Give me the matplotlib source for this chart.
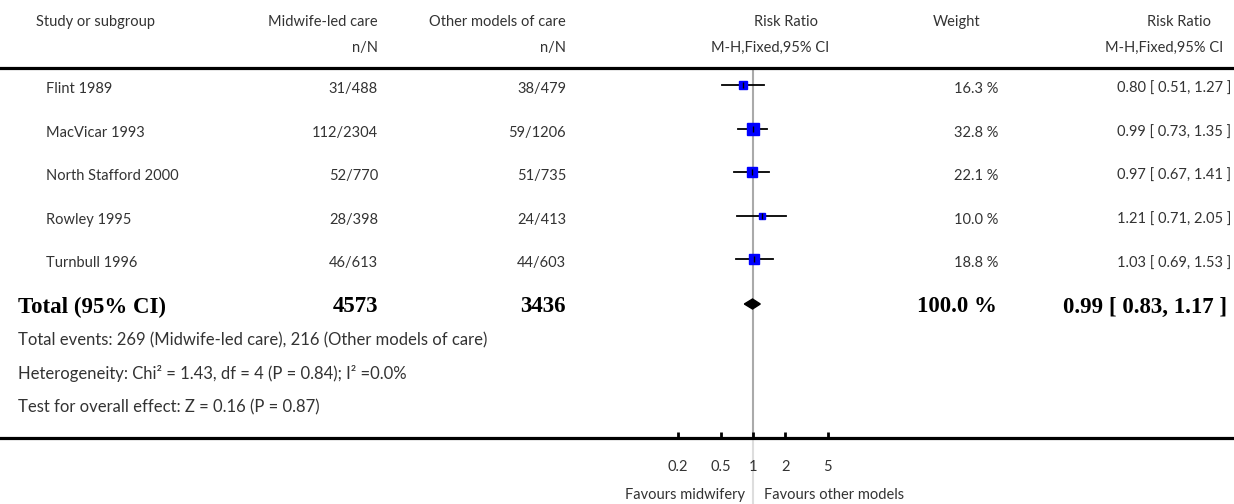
import matplotlib
matplotlib.use("Agg")
import matplotlib.pyplot as plt
import numpy as np

# data
studies = ["Flint 1989", "MacVicar 1993", "North Stafford 2000", "Rowley 1995", "Turnbull 1996"]
midwife_n = [31, 112, 52, 28, 46]
midwife_N = [488, 2304, 770, 398, 613]
other_n = [38, 59, 51, 24, 44]
other_N = [479, 1206, 735, 413, 603]
rr = [0.80, 0.99, 0.97, 1.21, 1.03]
rr_lo = [0.51, 0.73, 0.67, 0.71, 0.69]
rr_hi = [1.27, 1.35, 1.41, 2.05, 1.53]
weights = [16.3, 32.8, 22.1, 10.0, 18.8]

total_midwife = 4573
total_other = 3436
total_weight = 100.0
total_rr, total_lo, total_hi = 0.99, 0.83, 1.17

footnotes = [
    "Total events: 269 (Midwife-led care), 216 (Other models of care)",
    "Heterogeneity: Chi\u00b2 = 1.43, df = 4 (P = 0.84); I\u00b2 =0.0%",
    "Test for overall effect: Z = 0.16 (P = 0.87)",
]
axis_ticks = [0.2, 0.5, 1, 2, 5]
axis_labels = ["0.2", "0.5", "1", "2", "5"]

W, H = 1234, 504
SANS = ["Lato", "DejaVu Sans"]
SERIF = "Liberation Serif"
TXT = "#333333"
FS = 10.5
FSB = 16.5

fig = plt.figure(figsize=(W / 100, H / 100), dpi=100)

# background axes in pixel units for the table text
bg = fig.add_axes([0, 0, 1, 1])
bg.set_xlim(0, W)
bg.set_ylim(H, 0)
bg.axis("off")

# forest axes spanning full width, between header rule and bottom rule
top_px, bot_px = 68, 438
ax = fig.add_axes([0, (H - bot_px) / H, 1, (bot_px - top_px) / H])
ax.patch.set_alpha(0)
one_px = 753
px_per_decade = 107
ax.set_xscale("log")
ax.set_xlim(10 ** (-one_px / px_per_decade), 10 ** ((W - one_px) / px_per_decade))
ax.set_ylim(bot_px, top_px)
for s in ["left", "right"]:
    ax.spines[s].set_visible(False)
ax.spines["top"].set_linewidth(2.3)
ax.spines["bottom"].set_linewidth(2.3)
ax.set_yticks([])
ax.set_xticks(axis_ticks)
ax.set_xticklabels(axis_labels)
ax.xaxis.set_minor_locator(matplotlib.ticker.NullLocator())
ax.tick_params(axis="x", direction="in", length=4, width=2, pad=16,
               labelsize=FS, labelcolor=TXT)
for lab in ax.get_xticklabels():
    lab.set_family(SANS)

ax.axvline(1, color="#aaaaaa", lw=1.5, zorder=1)
ax.axvline(1, ymin=-0.18, ymax=0, color="#dddddd", lw=1.5, zorder=0, clip_on=False)

row_y = [89 + 43.6 * i for i in range(len(studies))]
total_y = 307


def t(x, y, s, ha="left", bold=False, size=None):
    if bold:
        bg.text(x, y, s, ha=ha, va="center", family=SERIF, fontweight="bold",
                fontsize=size or FSB, color="black")
    else:
        bg.text(x, y, s, ha=ha, va="center", family=SANS,
                fontsize=size or FS, color=TXT)


# header
t(36, 22, "Study or subgroup")
t(378, 22, "Midwife-led care", "right")
t(378, 48, "n/N", "right")
t(566, 22, "Other models of care", "right")
t(566, 48, "n/N", "right")
t(818, 22, "Risk Ratio", "right")
t(829, 48, "M-H,Fixed,95% CI", "right")
t(957, 22, "Weight", "center")
t(1211, 22, "Risk Ratio", "right")
t(1223, 48, "M-H,Fixed,95% CI", "right")

for i, name in enumerate(studies):
    y = row_y[i]
    t(46, y, name)
    t(378, y, f"{midwife_n[i]}/{midwife_N[i]}", "right")
    t(566, y, f"{other_n[i]}/{other_N[i]}", "right")
    t(998, y, f"{weights[i]:.1f} %", "right")
    t(1231, y, f"{rr[i]:.2f} [ {rr_lo[i]:.2f}, {rr_hi[i]:.2f} ]", "right")
    my = y - 4
    ax.plot([rr_lo[i], rr_hi[i]], [my, my], color="black", lw=1.3, zorder=2)
    ax.plot(rr[i], my, marker="s", ms=1.5 * np.sqrt(weights[i]), color="#0000ff",
            mec="#0000ff", zorder=3)
    ax.plot(rr[i], my, marker="|", ms=5, mew=1, color="black", zorder=4)

t(18, total_y, "Total (95% CI)", bold=True)
t(378, total_y, f"{total_midwife}", "right", bold=True)
t(566, total_y, f"{total_other}", "right", bold=True)
t(997, total_y, f"{total_weight:.1f} %", "right", bold=True)
t(1227, total_y, f"{total_rr:.2f} [ {total_lo:.2f}, {total_hi:.2f} ]", "right", bold=True)

dy = total_y - 3
ax.fill([total_lo, total_rr, total_hi, total_rr], [dy, dy - 5, dy, dy + 5],
        color="black", zorder=3)

for k, note in enumerate(footnotes):
    t(18, 340 + 33.5 * k, note, size=12)

t(745, 495, "Favours midwifery", "right")
t(764, 495, "Favours other models")

fig.savefig("out.png", dpi=100)
